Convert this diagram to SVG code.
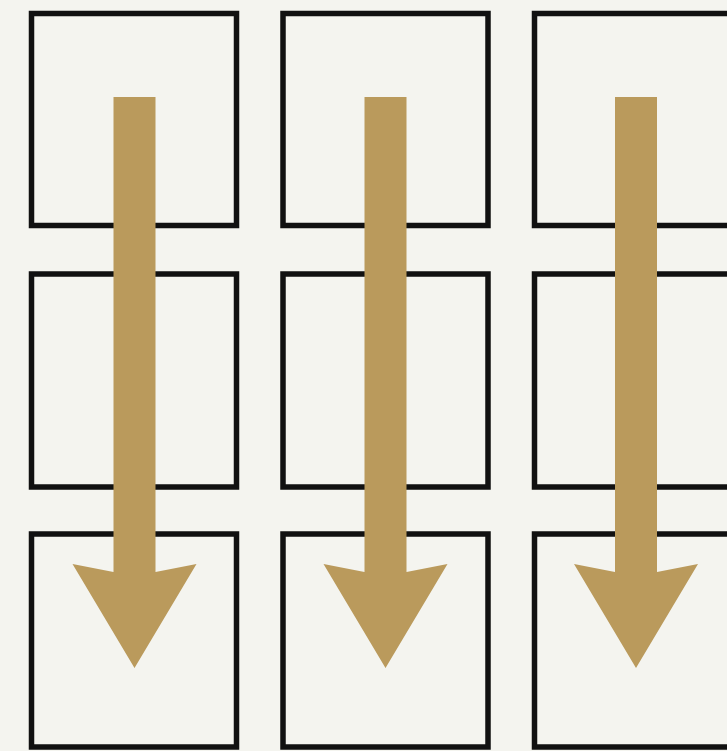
<svg xmlns="http://www.w3.org/2000/svg" width="727" height="751" viewBox="0 0 727 751">
<style>
.box{fill:none;stroke:#111;stroke-width:5.5}
.arrow{fill:#BA9A5C}
</style>
<defs>
<path id="arr" class="arrow" d="M-21,97 L21,97 L21,572 L62,564 L0,668 L-62,564 L-21,572 Z"/>
</defs>
<rect width="727" height="751" fill="#F4F4EF"/>
<g id="nodes">
<g id="r1c1"><rect class="box" x="31.5" y="13.5" width="205" height="212"/></g>
<g id="r1c2"><rect class="box" x="283" y="13.5" width="205" height="212"/></g>
<g id="r1c3"><rect class="box" x="534.5" y="13.5" width="205" height="212"/></g>
<g id="r2c1"><rect class="box" x="31.5" y="274" width="205" height="213"/></g>
<g id="r2c2"><rect class="box" x="283" y="274" width="205" height="213"/></g>
<g id="r2c3"><rect class="box" x="534.5" y="274" width="205" height="213"/></g>
<g id="r3c1"><rect class="box" x="31.5" y="534" width="205" height="213"/></g>
<g id="r3c2"><rect class="box" x="283" y="534" width="205" height="213"/></g>
<g id="r3c3"><rect class="box" x="534.5" y="534" width="205" height="213"/></g>
</g>
<g id="connectors">
<use href="#arr" x="134.5"/>
<use href="#arr" x="385.5"/>
<use href="#arr" x="636"/>
</g>
</svg>
